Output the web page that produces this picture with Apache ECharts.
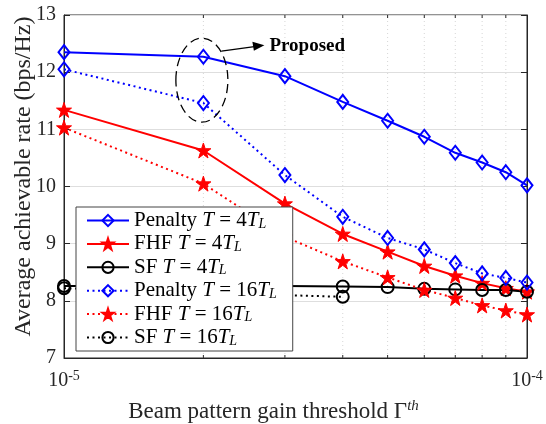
<!DOCTYPE html>
<html>
<head>
<meta charset="utf-8">
<script src="https://cdn.jsdelivr.net/npm/echarts@6/dist/echarts.min.js"></script>
<style>html,body{margin:0;padding:0;background:#fff;}#c{width:546px;height:424px;}</style>
</head>
<body>
<div id="c"></div>
<script>
var xValues = [1e-5, 2e-5, 3e-5, 4e-5, 5e-5, 6e-5, 7e-5, 8e-5, 9e-5, 1e-4];
var minorTicks = [2e-5, 3e-5, 4e-5, 5e-5, 6e-5, 7e-5, 8e-5, 9e-5];
var yTicks = [7, 8, 9, 10, 11, 12, 13];
var penalty4 = [12.35, 12.27, 11.93, 11.48, 11.15, 10.87, 10.59, 10.42, 10.25, 10.02];
var fhf4 = [11.34, 10.63, 9.70, 9.17, 8.86, 8.61, 8.44, 8.31, 8.22, 8.16];
var sf4 = [8.26, 8.26, 8.26, 8.25, 8.24, 8.21, 8.20, 8.19, 8.19, 8.16];
var penalty16 = [12.05, 11.46, 10.20, 9.47, 9.10, 8.90, 8.66, 8.48, 8.40, 8.32];
var fhf16 = [11.03, 10.05, 9.12, 8.69, 8.41, 8.19, 8.05, 7.92, 7.83, 7.76];
var sf16 = [8.22, 8.14, 8.10, 8.07];
var seriesNames = ['Penalty T = 4T_L', 'FHF T = 4T_L', 'SF T = 4T_L', 'Penalty T = 16T_L', 'FHF T = 16T_L', 'SF T = 16T_L'];

var FONT = 'Liberation Serif';
var STAR = 'path://M50,0 L61.8,35.3 L98.9,35.3 L68.9,57.2 L80.3,92.5 L50,70.7 L19.7,92.5 L31.1,57.2 L1.1,35.3 L38.2,35.3 Z';

function pairs(vals) {
  return vals.map(function (v, i) { return [xValues[i], v]; });
}
function mkSeries(name, vals, color, dotted, symbol, size, filled) {
  return {
    name: name, type: 'line', data: pairs(vals), xAxisIndex: 0, yAxisIndex: 0,
    symbol: symbol, symbolSize: size, showSymbol: true,
    lineStyle: { color: color, width: 2, type: dotted ? [2, 3.5] : 'solid' },
    itemStyle: { color: filled ? color : 'rgba(255,255,255,0)', borderColor: color, borderWidth: filled ? 1 : 2 },
    emphasis: { disabled: true }, z: 3, animation: false
  };
}

var chart = echarts.init(document.getElementById('c'), null, { renderer: 'canvas' });
var richLegend = {
  n: { fontFamily: FONT, fontSize: 21, color: '#000', lineHeight: 21 },
  i: { fontFamily: FONT, fontSize: 21, fontStyle: 'italic', color: '#000', lineHeight: 21 },
  s: { fontFamily: FONT, fontSize: 14, fontStyle: 'italic', color: '#000', lineHeight: 11, verticalAlign: 'bottom' }
};
var richTick = {
  b: { fontFamily: FONT, fontSize: 20, color: '#262626' },
  s: { fontFamily: FONT, fontSize: 14, color: '#262626', verticalAlign: 'top', padding: [0, 0, 10, 0] }
};

var option = {
  backgroundColor: '#fff',
  animation: false,
  grid: { left: 64, right: 19, top: 15, bottom: 66, outerBoundsMode: 'none', containLabel: false, show: true, borderColor: '#262626', borderWidth: 1, backgroundColor: 'transparent' },
  legend: {
    data: seriesNames, orient: 'vertical', left: 76, top: 207,
    itemWidth: 42, itemHeight: 14, itemGap: 2.4,
    padding: [3, 16, 3, 10],
    backgroundColor: '#fff', borderColor: '#444', borderWidth: 1,
    selectedMode: false,
    formatter: function (name) {
      return name.replace(/^(\w+) T = (\d+)T_L$/, '{n|$1 }{i|T}{n| = $2}{i|T}{s|L}');
    },
    textStyle: { fontFamily: FONT, fontSize: 21, color: '#000', rich: richLegend }
  },
  xAxis: [{
    type: 'log', logBase: 10, min: 1e-5, max: 1e-4,
    name: 'Beam pattern gain threshold {g|Γ}{sup|th}', nameLocation: 'middle', nameGap: 41,
    nameMoveOverlap: false,
    nameTextStyle: {
      fontFamily: FONT, fontSize: 23, color: '#262626', padding: [0, 44, 0, 0],
      rich: {
        g: { fontFamily: FONT, fontSize: 23, color: '#262626' },
        sup: { fontFamily: FONT, fontSize: 15, fontStyle: 'italic', color: '#262626', verticalAlign: 'top', padding: [0, 0, 10, 0] }
      }
    },
    axisLine: { lineStyle: { color: '#262626', width: 1 } },
    axisTick: { show: true, inside: true, length: 6, lineStyle: { color: '#262626' } },
    axisLabel: {
      margin: 11,
      formatter: function (v) { return '{b|10}{s|' + Math.round(Math.log10(v)) + '}'; },
      rich: richTick
    },
    splitLine: { show: false }
  }],
  yAxis: [{
    type: 'value', min: 7, max: 13, interval: 1,
    name: 'Average achievable rate (bps/Hz)', nameLocation: 'middle', nameGap: 28,
    nameMoveOverlap: false,
    nameTextStyle: { fontFamily: FONT, fontSize: 24, color: '#262626', padding: [0, 0, 0, 20] },
    axisLine: { show: true, lineStyle: { color: '#262626', width: 1 } },
    axisTick: { show: true, inside: true, length: 6, lineStyle: { color: '#262626' } },
    axisLabel: { fontFamily: FONT, fontSize: 20, color: '#262626', margin: 8 },
    splitLine: { show: true, lineStyle: { color: '#dedede', width: 1 } }
  }, {
    type: 'value', min: 7, max: 13, interval: 1, position: 'right',
    axisLine: { show: true, lineStyle: { color: '#262626', width: 1 } },
    axisTick: { show: true, inside: true, length: 6, lineStyle: { color: '#262626' } },
    axisLabel: { show: false }, splitLine: { show: false }
  }],
  series: [
    {
      name: 'minor', type: 'custom', xAxisIndex: 0, yAxisIndex: 0, z: 1, silent: true,
      data: minorTicks.map(function (x) { return [x]; }),
      encode: { x: 0 },
      renderItem: function (params, api) {
        var x = api.value(0);
        var b = api.coord([x, yTicks[0]]);
        var t = api.coord([x, yTicks[yTicks.length - 1]]);
        return {
          type: 'group', children: [
            { type: 'line', shape: { x1: b[0], y1: b[1], x2: t[0], y2: t[1] }, style: { stroke: '#d6d6d6', lineWidth: 1, lineDash: [1, 3] } },
            { type: 'line', shape: { x1: b[0], y1: b[1], x2: b[0], y2: b[1] - 3 }, style: { stroke: '#262626', lineWidth: 1 } },
            { type: 'line', shape: { x1: t[0], y1: t[1], x2: t[0], y2: t[1] + 3 }, style: { stroke: '#262626', lineWidth: 1 } }
          ]
        };
      }
    },
    mkSeries(seriesNames[0], penalty4, '#0000ff', false, 'diamond', [11, 14], false),
    mkSeries(seriesNames[1], fhf4, '#ff0000', false, STAR, 15, true),
    mkSeries(seriesNames[2], sf4, '#000000', false, 'circle', 12, false),
    mkSeries(seriesNames[3], penalty16, '#0000ff', true, 'diamond', [11, 14], false),
    mkSeries(seriesNames[4], fhf16, '#ff0000', true, STAR, 15, true),
    mkSeries(seriesNames[5], sf16, '#000000', true, 'circle', 12, false)
  ]
};
chart.setOption(option);

// annotation around the proposed scheme at the second threshold
var c = chart.convertToPixel({ gridIndex: 0 }, [xValues[1], 11.86]);
chart.setOption({
  graphic: [
    { type: 'ellipse', shape: { cx: c[0] - 1.5, cy: c[1], rx: 26, ry: 42 }, style: { fill: 'none', stroke: '#000', lineWidth: 1.3, lineDash: [9, 5] }, z: 10 },
    { type: 'line', shape: { x1: c[0] + 18, y1: c[1] - 29, x2: c[0] + 51, y2: c[1] - 33.5 }, style: { stroke: '#000', lineWidth: 1.3 }, z: 10 },
    { type: 'polygon', shape: { points: [[c[0] + 61, c[1] - 35], [c[0] + 49, c[1] - 38.5], [c[0] + 50.5, c[1] - 29.5]] }, style: { fill: '#000' }, z: 10 },
    { type: 'text', x: c[0] + 66, y: c[1] - 34, style: { text: 'Proposed', fontFamily: FONT, fontSize: 19, fontWeight: 'bold', fill: '#000', verticalAlign: 'middle', align: 'left' }, z: 10 }
  ]
});
</script>
</body>
</html>
